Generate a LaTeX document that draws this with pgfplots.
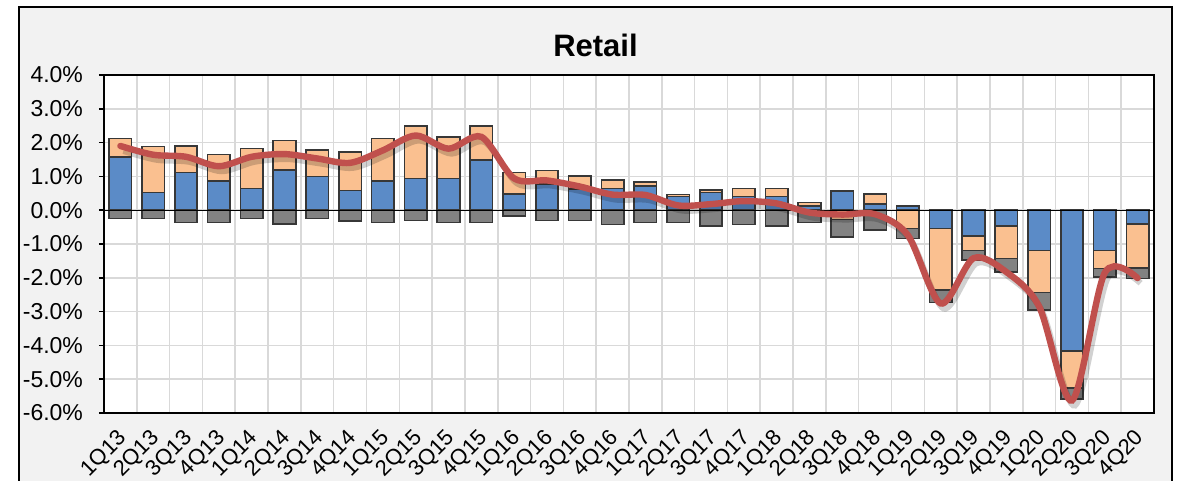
\documentclass[border=0pt]{standalone}
\usepackage{pgfplots}
\pgfplotsset{compat=1.18}
\usepackage{pgfplotstable}
\usepackage{fontspec}
\setmainfont{Liberation Sans}

\definecolor{barblue}{RGB}{91,139,199}
\definecolor{barorange}{RGB}{250,192,144}
\definecolor{bargray}{RGB}{130,130,130}
\definecolor{barline}{RGB}{55,55,55}
\definecolor{netred}{RGB}{192,80,77}
\definecolor{panel}{RGB}{242,242,242}
\definecolor{gridgray}{RGB}{217,217,217}

% Contributions by quarter (percentage points).
% bpos/opos: blue and orange parts above zero; bneg/oneg/gneg: parts below zero.
% net: the total line.
\pgfplotstableread{
x  bpos  opos  bneg   oneg   gneg   net
0  1.58  0.54  0      0      -0.25  1.90
1  0.52  1.36  0      0      -0.25  1.64
2  1.12  0.78  0      0      -0.36  1.58
3  0.87  0.78  0      0      -0.36  1.30
4  0.64  1.19  0      0      -0.25  1.58
5  1.19  0.87  0      0      -0.41  1.66
6  1.00  0.78  0      0      -0.25  1.53
7  0.58  1.14  0      0      -0.32  1.40
8  0.87  1.25  0      0      -0.36  1.77
9  0.94  1.55  0      0      -0.30  2.21
10 0.94  1.23  0      0      -0.37  1.82
11 1.48  1.01  0      0      -0.37  2.17
12 0.47  0.65  0      0      -0.18  0.94
13 0.77  0.41  0      0      -0.31  0.88
14 0.63  0.38  0      0      -0.31  0.70
15 0.64  0.25  0      0      -0.42  0.46
16 0.71  0.12  0      0      -0.37  0.45
17 0.41  0.06  0      0      -0.37  0.14
18 0.52  0.07  0      0      -0.47  0.18
19 0.41  0.23  0      0      -0.42  0.27
20 0.41  0.23  0      0      -0.47  0.20
21 0.12  0.11  0      0      -0.37  -0.07
22 0.57  0     0      -0.28  -0.51  -0.13
23 0.18  0.29  0      0      -0.59  -0.12
24 0.12  0     0      -0.54  -0.30  -0.74
25 0     0     -0.54  -1.83  -0.36  -2.76
26 0     0     -0.76  -0.43  -0.29  -1.42
27 0     0     -0.47  -0.96  -0.40  -1.83
28 0     0     -1.19  -1.25  -0.52  -2.85
29 0     0     -4.17  -1.09  -0.32  -5.63
30 0     0     -1.19  -0.54  -0.25  -1.85
31 0     0     -0.41  -1.30  -0.31  -2.01
}\retail

\pgfplotsset{
  plotbox/.style={
    at={(52pt,34pt)}, anchor=south west,
    width=525pt, height=169pt, scale only axis,
    xmin=-0.5, xmax=31.5, ymin=-6, ymax=4,
  },
  overlay axis/.style={plotbox, axis lines=none, xtick=\empty, ytick=\empty},
  bars/.style={ybar stacked, bar width=11.25pt},
  seg/.style={draw=barline, line width=0.8pt, fill=#1},
}

\begin{document}
\begin{tikzpicture}
\path[use as bounding box] (0pt,0pt) rectangle (591.5pt,240.5pt);
\fill[panel] (9.5pt,-10pt) rectangle (586pt,237pt);
\draw[black, line width=1.2pt] (9.5pt,-10pt) rectangle (586pt,237pt);
\node[font=\fontsize{15.5}{18}\selectfont\bfseries] at (297.75pt,218pt) {Retail};

% grid, ticks, labels and the parts above zero
\begin{axis}[
  plotbox, bars,
  axis background/.style={fill=white},
  axis line style={line width=1pt},
  xtick={0,...,31},
  xticklabels={1Q13,2Q13,3Q13,4Q13,1Q14,2Q14,3Q14,4Q14,1Q15,2Q15,3Q15,4Q15,
                1Q16,2Q16,3Q16,4Q16,1Q17,2Q17,3Q17,4Q17,1Q18,2Q18,3Q18,4Q18,
                1Q19,2Q19,3Q19,4Q19,1Q20,2Q20,3Q20,4Q20},
  minor xtick={-0.5,0.5,...,31.5},
  xminorgrids=true, xmajorgrids=false, ymajorgrids=true,
  grid style={gridgray, line width=0.8pt},
  ytick={-6,-5,...,4},
  tick align=outside, ytick pos=left, xtick pos=bottom,
  major tick length=2.5pt, minor tick length=0pt,
  xtick style={draw=none},
  ytick style={black, line width=0.8pt},
  /pgf/number format/assume math mode=true,
  yticklabel={\pgfmathprintnumber[fixed,fixed zerofill,precision=1]{\tick}\%},
  yticklabel style={font=\fontsize{11.5}{13}\selectfont, xshift=-4.5pt},
  xticklabel style={font=\fontsize{11}{13}\selectfont, xshift=4pt, yshift=-6pt,
                    rotate=45, anchor=east},
]
\addplot[seg=barblue]   table[x=x, y=bpos] {\retail};
\addplot[seg=barorange] table[x=x, y=opos] {\retail};
\end{axis}

% parts below zero
\begin{axis}[overlay axis, bars]
\addplot[seg=barblue]   table[x=x, y=bneg] {\retail};
\addplot[seg=barorange] table[x=x, y=oneg] {\retail};
\addplot[seg=bargray]   table[x=x, y=gneg] {\retail};
\end{axis}

% zero line and net total
\begin{axis}[overlay axis]
\draw[black, line width=0.6pt] (axis cs:-0.5,0) -- (axis cs:31.5,0);
\addplot[smooth, tension=0.5, no marks, line width=3pt, black, opacity=0.18,
  transform canvas={xshift=1.5pt, yshift=-2.5pt}] table[x=x, y=net] {\retail};
\addplot[smooth, tension=0.5, no marks, line width=3.2pt, netred, line cap=round]
  table[x=x, y=net] {\retail};
\end{axis}
\end{tikzpicture}
\end{document}
